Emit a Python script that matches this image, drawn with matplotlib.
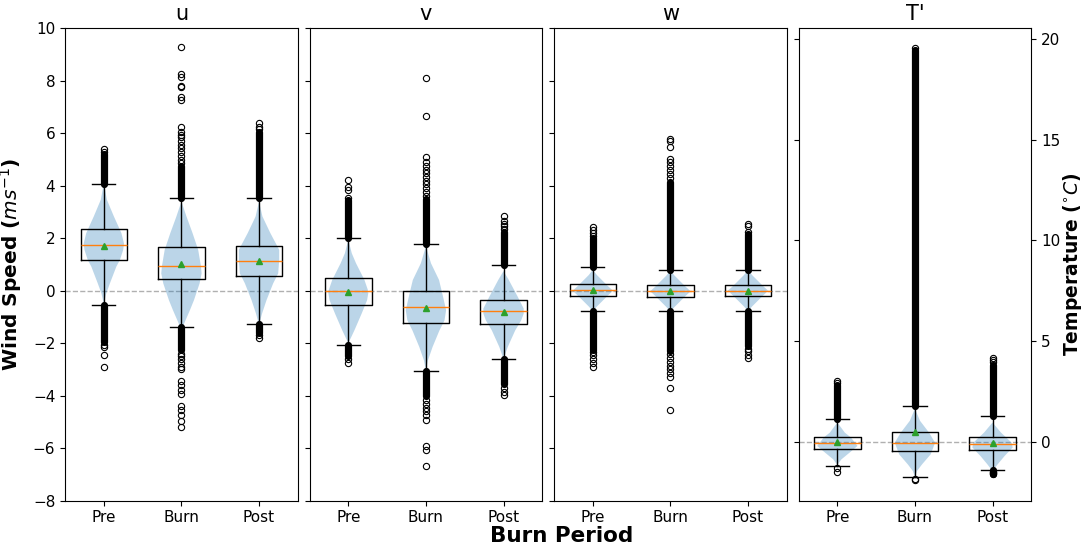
import numpy as np
import matplotlib
matplotlib.use("Agg")
import matplotlib.pyplot as plt

# ---- values ----
periods = ["Pre", "Burn", "Post"]
panel_titles = ["u", "v", "w", "T'"]

# box stats per panel: [Pre, Burn, Post]
q1 = [[1.19, 0.44, 0.55], [-0.53, -1.23, -1.26], [-0.20, -0.22, -0.20], [-0.33, -0.44, -0.40]]
med = [[1.75, 0.95, 1.14], [-0.02, -0.62, -0.78], [0.02, -0.02, 0.00], [-0.04, -0.04, -0.12]]
q3 = [[2.34, 1.68, 1.72], [0.49, -0.02, -0.35], [0.25, 0.22, 0.21], [0.26, 0.47, 0.26]]
mean = [[1.72, 1.02, 1.14], [-0.05, -0.66, -0.82], [0.04, 0.00, -0.02], [0.00, 0.49, -0.08]]
whislo = [[-0.55, -1.38, -1.26], [-2.05, -3.04, -2.59], [-0.77, -0.79, -0.78], [-1.19, -1.75, -1.40]]
whishi = [[4.07, 3.53, 3.52], [2.02, 1.80, 0.98], [0.90, 0.81, 0.80], [1.13, 1.80, 1.26]]

# ranges where the outlier circles overlap into a solid column
dense_fliers = [
    [[(4.07, 5.2), (-1.95, -0.55)], [(3.53, 4.75), (-2.25, -1.38)], [(3.52, 6.05), (-1.6, -1.26)]],
    [[(2.02, 3.45), (-2.5, -2.05)], [(1.80, 3.5), (-4.0, -3.04)], [(0.98, 2.25), (-3.55, -2.59)]],
    [[(0.90, 2.0), (-2.25, -0.77)], [(0.81, 4.15), (-2.3, -0.79)], [(0.80, 2.15), (-2.1, -0.78)]],
    [[(1.13, 2.8)], [(1.80, 19.45)], [(1.26, 3.8), (-1.6, -1.4)]],
]
# single outlier circles
sparse_fliers = [
    [[5.3, 5.42, -2.05, -2.15, -2.45, -2.92],
     [4.85, 5.0, 5.15, 5.3, 5.45, 5.55, 5.7, 5.85, 5.95, 6.05, 6.25, 7.25, 7.4, 7.75, 7.82, 8.14, 8.27, 9.3,
      -2.4, -2.5, -2.6, -2.75, -2.9, -3.0, -3.45, -3.6, -3.8, -3.95, -4.4, -4.55, -4.75, -4.95, -5.18],
     [6.15, 6.25, 6.4, -1.7, -1.8]],
    [[3.55, 3.85, 3.95, 4.22, -2.6, -2.75],
     [3.6, 3.75, 3.9, 4.05, 4.2, 4.35, 4.5, 4.6, 4.75, 4.92, 5.08, 6.66, 8.1,
      -4.15, -4.3, -4.45, -4.6, -4.75, -4.92, -5.93, -6.06, -6.67],
     [2.35, 2.45, 2.55, 2.65, 2.85, -3.7, -3.85, -3.98]],
    [[2.1, 2.2, 2.3, 2.42, -2.35, -2.45, -2.6, -2.75, -2.92],
     [4.3, 4.45, 4.6, 4.75, 4.9, 5.02, 5.46, 5.7, 5.79,
      -2.4, -2.55, -2.7, -2.85, -3.0, -3.15, -3.28, -3.71, -4.55],
     [2.25, 2.45, 2.54, -2.2, -2.3, -2.45, -2.57]],
    [[2.9, 3.0, -1.3, -1.48],
     [19.55, -1.85, -1.88],
     [3.95, 4.05, 4.18, -1.5, -1.55, -1.6]],
]

# violin outlines: knots (value, relative half width)
violin_y = [
    [[-0.5, -0.1, 0.28, 0.92, 1.18, 1.56, 1.8, 2.2, 2.83, 3.47, 4.1],
     [-1.5, -1.13, -0.74, -0.36, 0.28, 0.66, 0.92, 1.56, 2.2, 2.83, 3.4],
     [-1.3, -0.87, -0.36, 0.28, 0.66, 1.18, 1.56, 2.2, 2.83, 3.4]],
    [[-2.0, -1.51, -0.87, -0.36, -0.04, 0.41, 1.05, 1.43, 1.95],
     [-3.05, -2.65, -2.14, -1.51, -1.13, -0.74, -0.23, 0.41, 1.05, 1.7],
     [-2.6, -2.14, -1.51, -1.13, -0.87, -0.68, -0.23, 0.41, 0.75]],
    [[-0.78, -0.6, -0.4, -0.2, 0.0, 0.2, 0.4, 0.6, 0.8],
     [-0.8, -0.62, -0.42, -0.22, -0.02, 0.18, 0.38, 0.58, 0.78],
     [-0.78, -0.6, -0.4, -0.2, 0.0, 0.2, 0.4, 0.6, 0.8]],
    [[-1.15, -0.87, -0.54, -0.2, 0.22, 0.46, 0.96],
     [-1.75, -1.45, -1.12, -0.62, -0.04, 0.46, 1.05, 1.65],
     [-1.45, -1.12, -0.7, -0.28, -0.04, 0.46, 0.96]],
]
violin_w = [
    [[0.0, 0.12, 0.3, 0.62, 0.8, 0.96, 1.0, 0.87, 0.5, 0.15, 0.0],
     [0.0, 0.2, 0.42, 0.62, 0.9, 1.0, 0.97, 0.83, 0.55, 0.25, 0.0],
     [0.0, 0.15, 0.37, 0.7, 0.95, 1.0, 1.0, 0.56, 0.17, 0.0]],
    [[0.0, 0.3, 0.66, 0.93, 1.0, 0.8, 0.38, 0.17, 0.0],
     [0.0, 0.1, 0.33, 0.67, 0.92, 1.0, 0.85, 0.65, 0.25, 0.0],
     [0.0, 0.2, 0.55, 0.83, 0.95, 0.95, 0.67, 0.25, 0.0]],
    [[0.0, 0.2, 0.46, 0.72, 1.0, 0.72, 0.46, 0.2, 0.0],
     [0.0, 0.2, 0.46, 0.72, 1.0, 0.72, 0.46, 0.2, 0.0],
     [0.0, 0.2, 0.46, 0.72, 1.0, 0.72, 0.46, 0.2, 0.0]],
    [[0.0, 0.2, 0.6, 1.0, 0.67, 0.37, 0.0],
     [0.0, 0.1, 0.35, 0.78, 1.0, 0.7, 0.25, 0.0],
     [0.0, 0.25, 0.6, 1.0, 0.95, 0.42, 0.0]],
]

positions = [1, 2, 3]

fig, axes = plt.subplots(1, 4, figsize=(10.84, 5.5), dpi=100)
fig.subplots_adjust(left=0.060, right=0.9514, top=0.9485, bottom=0.0896, wspace=0.0503)

flierprops = dict(marker="o", markerfacecolor="none", markeredgecolor="black",
                  markersize=4.5, markeredgewidth=0.8)
meanprops = dict(marker="^", markerfacecolor="#2ca02c", markeredgecolor="#2ca02c", markersize=5)

for p, ax in enumerate(axes):
    ax.axhline(0, color="#b0b0b0", ls="--", lw=1.0, zorder=0.5)

    vpstats = []
    for g in range(3):
        vpstats.append(dict(coords=np.array(violin_y[p][g]), vals=np.array(violin_w[p][g]),
                            mean=mean[p][g], median=med[p][g],
                            min=violin_y[p][g][0], max=violin_y[p][g][-1]))
    parts = ax.violin(vpstats, positions=positions, widths=0.52, showextrema=False)
    for body in parts["bodies"]:
        body.set_facecolor("#1f77b4")
        body.set_alpha(0.3)
        body.set_linewidth(0)
        body.set_zorder(1)

    # dense outlier columns
    for g in range(3):
        for lo, hi in dense_fliers[p][g]:
            ax.plot([positions[g], positions[g]], [lo, hi], color="black", lw=5.2,
                    solid_capstyle="round", zorder=2.2)

    stats = []
    for g in range(3):
        stats.append(dict(med=med[p][g], q1=q1[p][g], q3=q3[p][g], mean=mean[p][g],
                          whislo=whislo[p][g], whishi=whishi[p][g],
                          fliers=sparse_fliers[p][g], label=periods[g]))
    ax.bxp(stats, positions=positions, widths=0.6, showmeans=True, showfliers=True,
           flierprops=flierprops, meanprops=meanprops,
           medianprops=dict(color="#ff7f0e", lw=1.0),
           boxprops=dict(lw=1.0), whiskerprops=dict(lw=1.0), capprops=dict(lw=1.0))

    ax.set_xlim(0.5, 3.5)
    ax.set_title(panel_titles[p], fontsize=15)
    ax.tick_params(axis="both", labelsize=11)

for ax in axes[:3]:
    ax.set_ylim(-8, 10)
    ax.set_yticks(np.arange(-8, 11, 2))
for ax in axes[1:3]:
    ax.tick_params(axis="y", labelleft=False)

axes[0].set_ylabel("Wind Speed ($ms^{-1}$)", fontsize=14.5, fontweight="bold", labelpad=6)

ax4 = axes[3]
ax4.set_ylim(-2.92, 20.52)
ax4.set_yticks([0, 5, 10, 15, 20])
ax4.tick_params(axis="y", left=True, right=True, labelleft=False, labelright=True)
ax4.yaxis.set_label_position("right")
ax4.set_ylabel("Temperature ($^{\\circ}C$)", fontsize=13.5, fontweight="bold",
               rotation=90, va="center", ha="center")
ax4.yaxis.set_label_coords(1.178, 0.5)

fig.text(0.518, 0.025, "Burn Period", ha="center", va="center", fontsize=15.5, fontweight="bold")

fig.savefig("out.png", dpi=100)
